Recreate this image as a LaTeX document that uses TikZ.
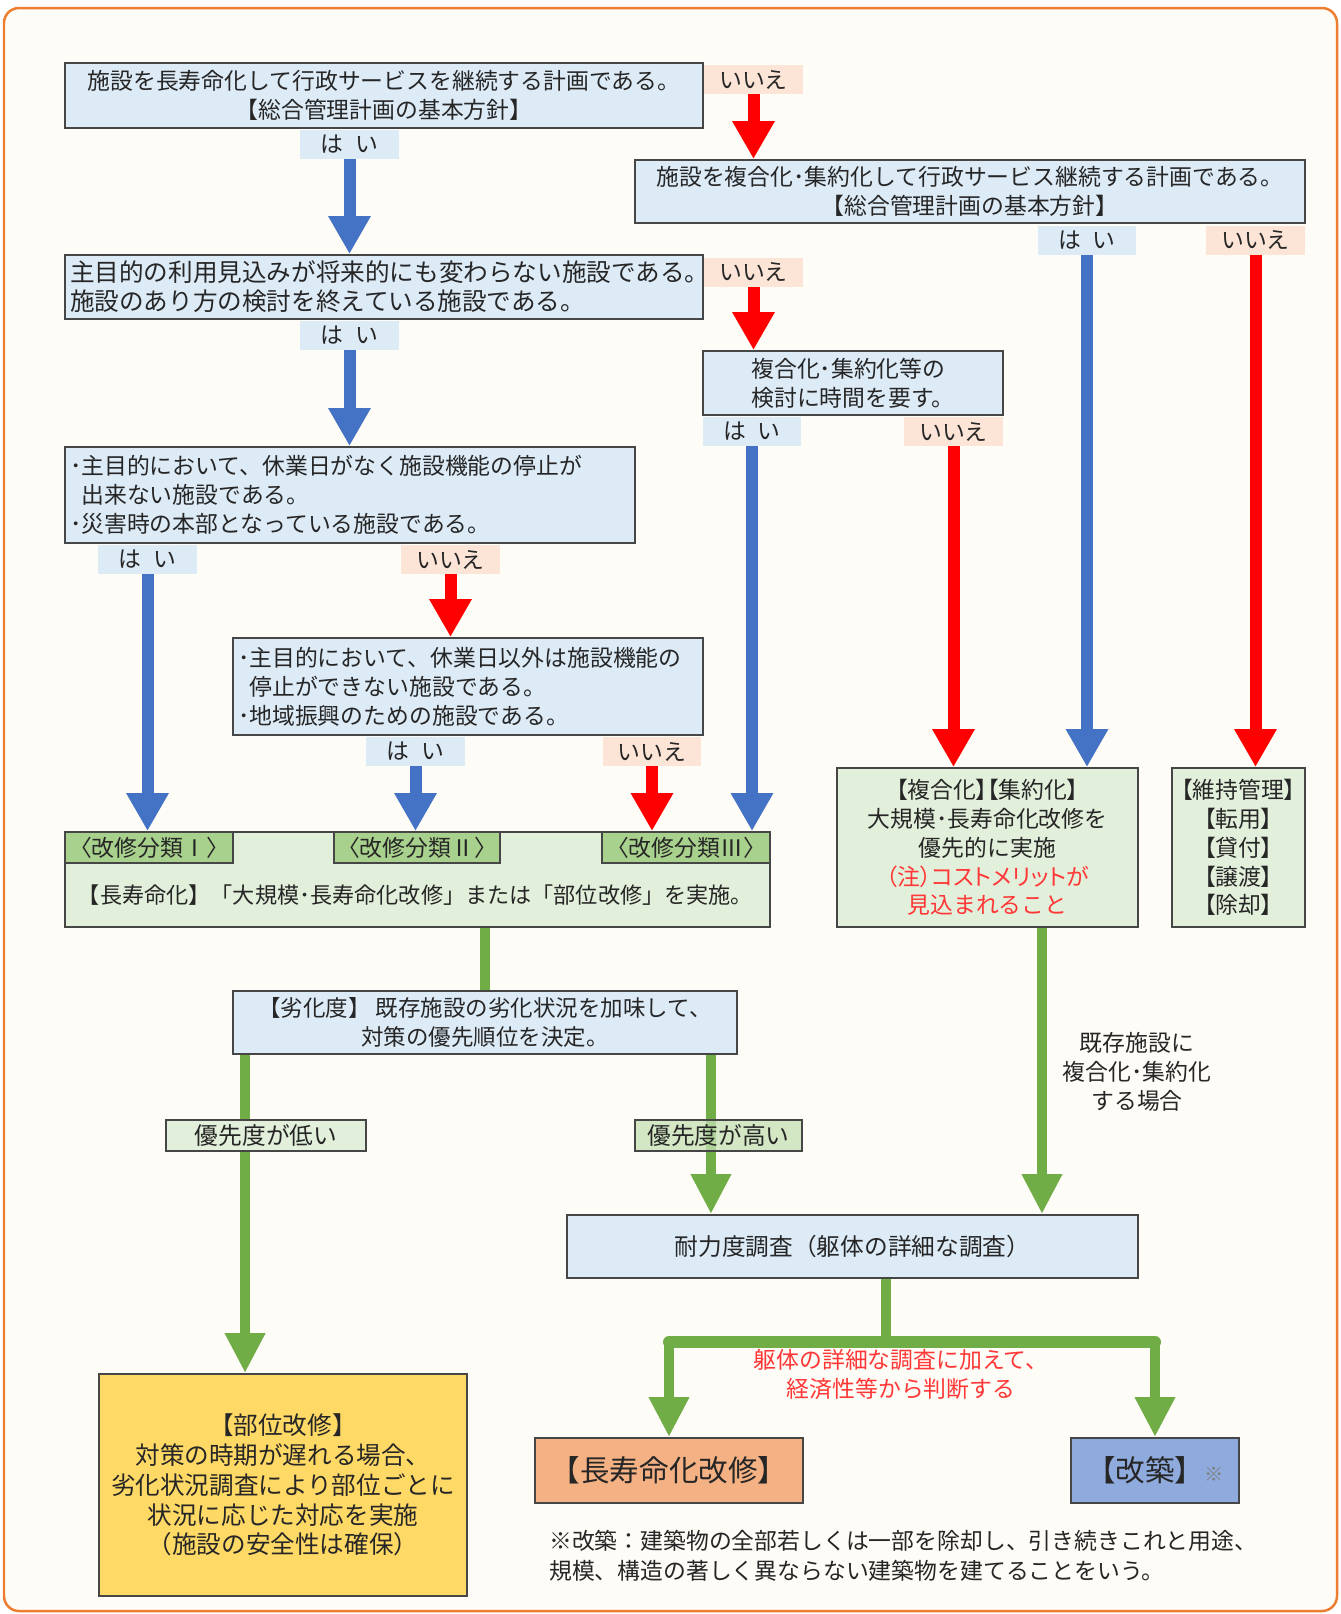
\documentclass[tikz,border=0pt]{standalone}
\usepackage{fontspec}
\setmainfont{Noto Sans CJK JP}
\newfontfamily\pfont{Noto Sans CJK JP}[RawFeature=+palt]
\usetikzlibrary{arrows.meta}

\definecolor{framecol}{RGB}{237,125,49}
\definecolor{bgcol}{RGB}{254,252,246}
\definecolor{boxline}{RGB}{70,70,70}
\definecolor{qblue}{RGB}{221,235,247}
\definecolor{npink}{RGB}{252,228,214}
\definecolor{ggreen}{RGB}{226,239,218}
\definecolor{tabgreen}{RGB}{169,209,142}
\definecolor{hgreen}{RGB}{197,224,180}
\definecolor{arrblue}{RGB}{68,114,196}
\definecolor{arrred}{RGB}{255,0,0}
\definecolor{arrgreen}{RGB}{112,173,71}
\definecolor{txt}{RGB}{38,38,38}
\definecolor{notered}{RGB}{255,55,55}
\definecolor{yellowbox}{RGB}{255,217,102}
\definecolor{orangebox}{RGB}{244,177,131}
\definecolor{bluebox}{RGB}{143,170,220}

\tikzset{
	qbox/.style={draw=boxline,fill=qblue,line width=0.04cm,inner sep=0pt},
	gbox/.style={qbox,fill=ggreen},
	yesl/.style={fill=qblue,inner sep=0pt,minimum width=1.98cm,minimum height=0.58cm},
	nol/.style={yesl,fill=npink},
	tabl/.style={qbox,fill=tabgreen,minimum width=3.36cm,minimum height=0.62cm},
	barrow/.style={arrblue,line width=0.24cm,-{Triangle[width=0.8cm,length=0.76cm]}},
	rarrow/.style={barrow,arrred},
	gline/.style={arrgreen,line width=0.2cm},
	garrow/.style={gline,-{Triangle[width=0.76cm,length=0.8cm]}}
}

\begin{document}
\begin{tikzpicture}[x=0.02cm,y=-0.02cm,font=\fontsize{13}{16.4}\selectfont,text=txt]
	% frame
	\useasboundingbox (0,0) rectangle (1341,1614);
	\draw[framecol,fill=bgcol,line width=0.05cm,rounded corners=0.3cm] (4,8) rectangle (1337,1611);
	% question boxes
	\node[qbox,minimum width=12.76cm,minimum height=1.3cm,align=center] (plan) at (384,95.5) {施設を長寿命化して行政サービスを継続する計画である。\\【総合管理計画の基本方針】};
	\node[nol] (noA) at (753.5,79.5) {いいえ};
	\node[yesl] (yesA) at (349.5,144) {は\hspace{0.5em}い};
	\node[qbox,minimum width=13.4cm,minimum height=1.26cm,align=center] (compplan) at (970,191.5) {施設を複合化･集約化して行政サービス継続する計画である。\\【総合管理計画の基本方針】};
	\node[yesl] (yesB) at (1087,240) {は\hspace{0.5em}い};
	\node[nol] (noB) at (1255.5,240) {いいえ};
	\node[qbox,minimum height=1.28cm,text width=12.56cm,inner xsep=0.1cm,align=left,font=\fontsize{14}{16.4}\selectfont] (purpose) at (384,287) {主目的の利用見込みが将来的にも変わらない施設である。\\施設のあり方の検討を終えている施設である。};
	\node[nol] (noC) at (753.5,272) {いいえ};
	\node[yesl] (yesC) at (349.5,335.5) {は\hspace{0.5em}い};
	\node[qbox,minimum width=6cm,minimum height=1.28cm,align=left] (review) at (853,383) {複合化･集約化等の\\検討に時間を要す。};
	\node[yesl] (yesD) at (752,431.5) {は\hspace{0.5em}い};
	\node[nol] (noD) at (953.5,431.5) {いいえ};
	\node[qbox,minimum height=1.92cm,text width=11.2cm,inner xsep=0.1cm,align=left] (closed) at (350,495) {･主目的において、休業日がなく施設機能の停止が\\\phantom{･}出来ない施設である。\\･災害時の本部となっている施設である。};
	\node[yesl] (yesE) at (147.5,559.5) {は\hspace{0.5em}い};
	\node[nol] (noE) at (450.5,559.5) {いいえ};
	\node[qbox,minimum height=1.94cm,text width=9.2cm,inner xsep=0.1cm,align=left] (partial) at (468,686.5) {･主目的において、休業日以外は施設機能の\\\phantom{･}停止ができない施設である。\\･地域振興のための施設である。};
	\node[yesl] (yesF) at (415.5,751.5) {は\hspace{0.5em}い};
	\node[nol] (noF) at (652,751.5) {いいえ};
	% result boxes
	\node[gbox,minimum width=14.1cm,minimum height=1.9cm] (longlife) at (417.5,879.5) {};
	\node[tabl] (tabA) at (149,847.5) {〈改修分類Ⅰ〉};
	\node[tabl,minimum width=3.32cm] (tabB) at (417,847.5) {〈改修分類Ⅱ〉};
	\node[tabl] (tabC) at (686,847.5) {〈改修分類Ⅲ〉};
	\node[font=\fontsize{12.6}{16.4}\selectfont] (longtxt) at (415.5,895) {【長寿命化】「大規模･長寿命化改修」または「部位改修」を実施。};
	\node[gbox,minimum width=6.02cm,minimum height=3.18cm,align=center] (compbox) at (987.5,847.5) {{\pfont【複合化】【集約化】}\\大規模･長寿命化改修を\\優先的に実施\\\textcolor{notered}{\pfont（注）コストメリットが}\\\textcolor{notered}{見込まれること}};
	\node[gbox,minimum width=2.66cm,minimum height=3.18cm,align=center,font=\pfont\fontsize{13}{16.4}\selectfont] (maintbox) at (1238.5,847.5) {【維持管理】\\【転用】\\【貸付】\\【譲渡】\\【除却】};
	\node[qbox,minimum width=10.08cm,minimum height=1.26cm,align=center,font=\fontsize{12.8}{16.4}\selectfont] (deter) at (485,1022.5) {【劣化度】 既存施設の劣化状況を加味して、\\対策の優先順位を決定。};
	\node[qbox,minimum width=11.42cm,minimum height=1.26cm,font=\fontsize{13.5}{16.4}\selectfont] (survey) at (852.5,1246.5) {耐力度調査（躯体の詳細な調査）};
	\node[qbox,fill=yellowbox,minimum width=7.36cm,minimum height=4.44cm,align=center,font=\fontsize{14}{17}\selectfont] (partfix) at (283,1485) {【部位改修】\\対策の時期が遅れる場合、\\劣化状況調査により部位ごとに\\状況に応じた対応を実施\\（施設の安全性は確保）};
	\node[qbox,fill=orangebox,minimum width=5.36cm,minimum height=1.3cm,font=\fontsize{16.8}{20}\selectfont] (renov) at (669,1470.5) {【長寿命化改修】};
	\node[qbox,fill=bluebox,minimum width=3.36cm,minimum height=1.3cm,font=\fontsize{16.8}{20}\selectfont] (rebuild) at (1155,1470.5) {【改築】{\fontsize{11}{11}\selectfont\textcolor{gray}{※}}};
	% notes
	\node[anchor=west,align=left,font=\fontsize{13}{17}\selectfont] (note) at (543,1556) {※改築：建築物の全部若しくは一部を除却し、引き続きこれと用途、\\規模、構造の著しく異ならない建築物を建てることをいう。};
	\node[align=center] (exist) at (1137,1072) {既存施設に\\複合化･集約化\\する場合};
	\node[align=center,text=notered] (judge) at (901,1374.5) {躯体の詳細な調査に加えて、\\経済性等から判断する};
	% yes / no arrows
	\draw[rarrow] (noA) -- (compplan.north -| noA);
	\draw[barrow] (yesA) -- (purpose.north -| yesA);
	\draw[barrow] (yesB) -- (compbox.north -| yesB);
	\draw[rarrow] (noB) -- (maintbox.north -| noB);
	\draw[rarrow] (noC) -- (review.north -| noC);
	\draw[barrow] (yesC) -- (closed.north -| yesC);
	\draw[barrow] (yesD) -- (longlife.north -| yesD);
	\draw[rarrow] (noD) -- (compbox.north -| noD);
	\draw[barrow] (yesE) -- (longlife.north -| yesE);
	\draw[rarrow] (noE) -- (partial.north -| noE);
	\draw[barrow] (yesF) -- (longlife.north -| yesF);
	\draw[rarrow] (noF) -- (longlife.north -| noF);
	% green flow
	\coordinate (lowtop) at ([xshift=0.26cm]deter.south west);
	\coordinate (hightop) at ([xshift=-0.54cm]deter.south east);
	\coordinate (compout) at ([xshift=1.09cm]compbox.south);
	\coordinate (surveyout) at ([xshift=0.67cm]survey.south);
	\coordinate (split) at ([yshift=-1.26cm]surveyout);
	\coordinate (barL) at (split -| renov.north);
	\coordinate (barR) at (split -| rebuild.north);
	\draw[gline] (longlife.south -| deter.north) -- (deter.north);
	\draw[garrow] (lowtop) -- (lowtop |- partfix.north);
	\draw[garrow] (hightop) -- (hightop |- survey.north);
	\draw[garrow] (compout) -- (compout |- survey.north);
	\draw[gline] (surveyout) -- (split);
	\draw[gline,line width=0.24cm,line cap=round] (barL) -- (barR);
	\draw[garrow] (barL) -- (renov.north);
	\draw[garrow] (barR) -- (rebuild.north);
	% priority labels
	\node[qbox,fill=ggreen,minimum width=4cm,minimum height=0.62cm,font=\fontsize{13.5}{16}\selectfont] (lowprio) at (266,1135.5) {優先度が低い};
	\node[qbox,fill=hgreen,fill opacity=0.75,text opacity=1,minimum width=3.34cm,minimum height=0.62cm,font=\fontsize{13.5}{16}\selectfont] (highprio) at (718.5,1135.5) {優先度が高い};
\end{tikzpicture}
\end{document}
